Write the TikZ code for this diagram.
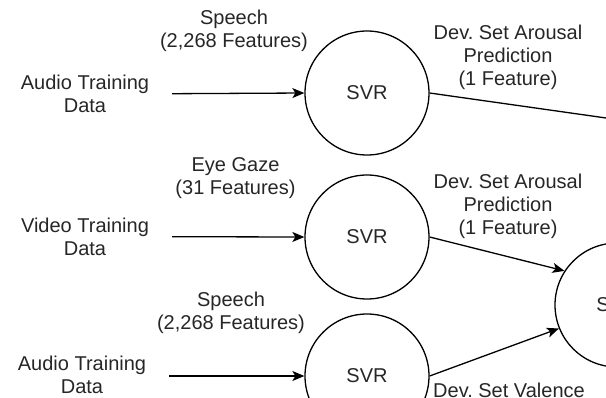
\documentclass[tikz,border=0pt]{standalone}
\usepackage{fontspec}
\setmainfont{Liberation Sans}
\usetikzlibrary{arrows.meta}
\frenchspacing
\tikzset{
  txt/.style={align=center, font=\fontsize{20}{23}\selectfont, text=black!85, inner sep=0pt},
  inp/.style={txt, minimum width=174pt},
  svr/.style={circle, draw, line width=1.3pt, minimum size=124pt, inner sep=0pt, font=\fontsize{20}{23}\selectfont, text=black!85},
  arr/.style={-{Stealth[length=12pt, width=10pt, inset=3pt]}, line width=1.3pt},
  ln/.style={line width=1.3pt}
}
\begin{document}
\begin{tikzpicture}[x=1pt, y=-1pt]
\useasboundingbox (0,0) rectangle (606,397);
\clip (0,0) rectangle (606,397);
% SVR circles
\node[svr] (svr1) at (367,93) {SVR};
\node[svr] (svr2) at (367,237) {SVR};
\node[svr] (svr3) at (367,376) {SVR};
\node[svr] (big) at (617,305) {SVR};
% inputs
\node[inp] (in1) at (85,93.7) {Audio Training\\Data};
\node[inp] (in2) at (85,236.7) {Video Training\\Data};
\node[inp] (in3) at (82,374.5) {Audio Training\\Data};
% feature labels
\node[txt] (f1) at (234,31.3) {Speech\\(2,268 Features)};
\node[txt] (f2) at (235.5,178.5) {Eye Gaze\\(31 Features)};
\node[txt] (f3) at (231,313.3) {Speech\\(2,268 Features)};
% prediction labels
\node[txt] (p1) at (508,57.8) {Dev. Set Arousal\\Prediction\\(1 Feature)};
\node[txt] (p2) at (508,206.8) {Dev. Set Arousal\\Prediction\\(1 Feature)};
\node[txt] (p3) at (509,415.8) {Dev. Set Valence\\Prediction\\(1 Feature)};
% connectors
\draw[arr] (in1.east) -- (svr1.west);
\draw[arr] (in2.east) -- (svr2.west);
\draw[arr] (in3.east |- svr3.west) -- (svr3.west);
\coordinate (o1) at (700,131.3);
\draw[ln] (svr1.east) -- (o1);
\draw[arr] (svr2.east) -- (big.147);
\draw[arr] (svr3.east) -- (big.202.6);
\end{tikzpicture}
\end{document}
